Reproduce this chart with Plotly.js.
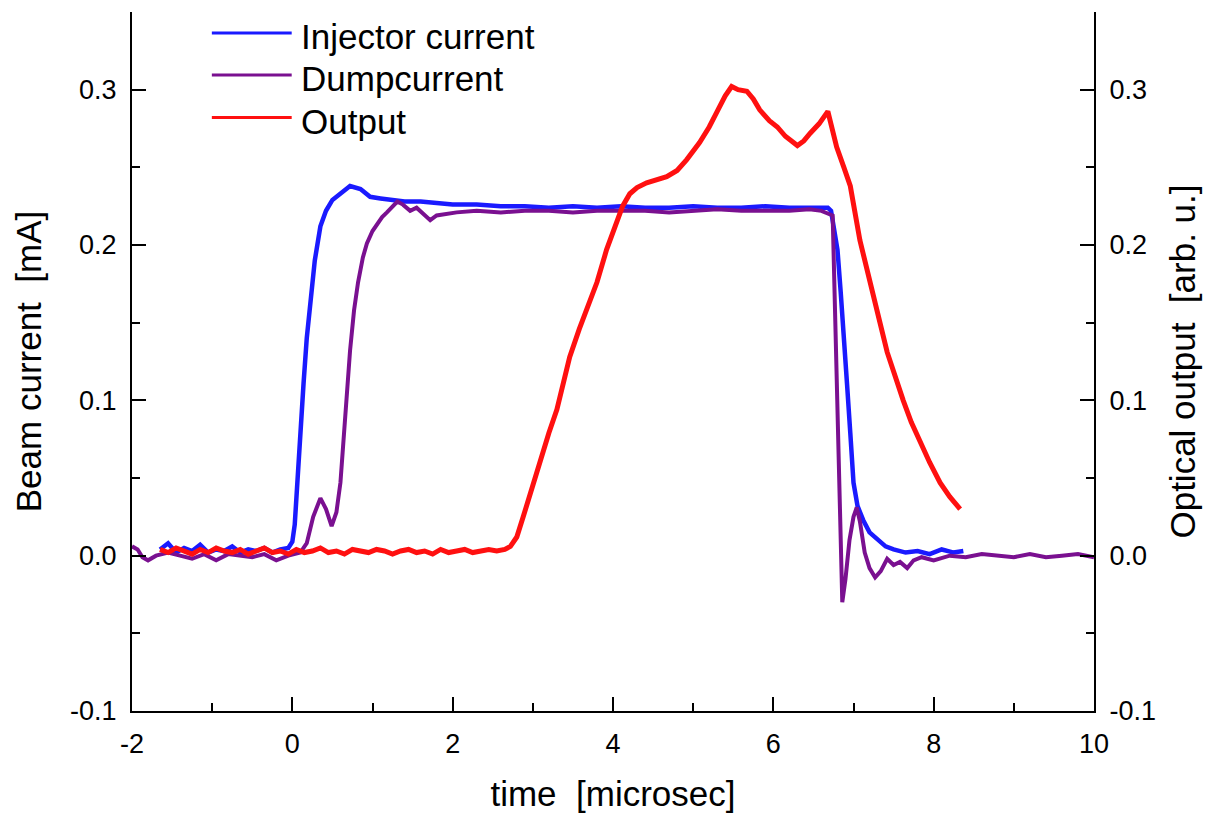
<!DOCTYPE html>
<html>
<head>
<meta charset="utf-8">
<script src="https://cdn.plot.ly/plotly-3.0.1.min.js"></script>
<style>html,body{margin:0;padding:0;background:#fff;}#chart{width:1212px;height:813px;}</style>
</head>
<body>
<div id="chart"></div>
<script>
// ---- Data ----
const injectorTime = [-1.65,-1.55,-1.45,-1.35,-1.25,-1.15,-1.05,-0.95,-0.85,-0.75,-0.65,-0.55,-0.45,-0.35,-0.25,-0.15,-0.05,0.0,0.03,0.06,0.1,0.14,0.18,0.22,0.28,0.35,0.42,0.5,0.6,0.72,0.85,0.97,1.1,1.25,1.4,1.6,1.8,2.0,2.3,2.6,2.9,3.2,3.5,3.8,4.1,4.4,4.7,5.0,5.3,5.6,5.9,6.2,6.5,6.68,6.72,6.76,6.8,6.84,6.88,6.92,6.96,7.0,7.05,7.12,7.2,7.3,7.4,7.5,7.65,7.8,7.95,8.1,8.25,8.37];
const injectorCurrent = [0.004,0.008,0.002,0.005,0.003,0.007,0.002,0.004,0.003,0.006,0.002,0.004,0.003,0.005,0.002,0.004,0.005,0.009,0.02,0.047,0.08,0.111,0.14,0.158,0.19,0.212,0.222,0.229,0.233,0.238,0.236,0.231,0.230,0.229,0.228,0.228,0.227,0.226,0.226,0.225,0.225,0.224,0.225,0.224,0.225,0.224,0.224,0.225,0.224,0.224,0.225,0.224,0.224,0.224,0.222,0.21,0.197,0.17,0.143,0.11,0.079,0.047,0.032,0.023,0.015,0.010,0.006,0.004,0.002,0.003,0.001,0.004,0.002,0.003];

const dumpTime = [-2.0,-1.93,-1.87,-1.8,-1.7,-1.55,-1.4,-1.25,-1.1,-0.95,-0.8,-0.65,-0.5,-0.35,-0.2,-0.05,0.1,0.18,0.26,0.35,0.42,0.49,0.55,0.6,0.66,0.72,0.77,0.82,0.88,0.93,1.0,1.06,1.12,1.18,1.25,1.31,1.38,1.47,1.55,1.62,1.72,1.8,1.9,2.05,2.3,2.6,2.9,3.2,3.5,3.8,4.1,4.4,4.7,5.0,5.3,5.6,5.9,6.2,6.45,6.6,6.74,6.79,6.83,6.86,6.9,6.95,7.0,7.04,7.08,7.14,7.2,7.27,7.34,7.42,7.5,7.58,7.67,7.75,7.85,8.0,8.2,8.4,8.6,8.8,9.0,9.2,9.4,9.6,9.8,10.0];
const dumpCurrent = [0.006,0.004,-0.001,-0.003,0.0,0.002,0.0,-0.002,0.001,-0.003,0.001,0.0,-0.001,0.001,-0.003,0.0,0.002,0.008,0.025,0.037,0.03,0.019,0.028,0.047,0.09,0.132,0.158,0.176,0.192,0.201,0.209,0.214,0.218,0.221,0.225,0.228,0.226,0.222,0.224,0.221,0.216,0.219,0.220,0.221,0.222,0.221,0.222,0.222,0.221,0.222,0.222,0.222,0.221,0.222,0.223,0.222,0.222,0.222,0.223,0.222,0.219,0.12,0.02,-0.030,-0.015,0.010,0.025,0.031,0.022,0.002,-0.008,-0.014,-0.010,-0.002,-0.006,-0.004,-0.008,-0.003,-0.001,-0.003,0.0,-0.001,0.001,0.0,-0.001,0.001,-0.001,0.0,0.001,-0.001];

const outputTime = [-1.65,-1.55,-1.45,-1.35,-1.25,-1.15,-1.05,-0.95,-0.85,-0.75,-0.65,-0.55,-0.45,-0.35,-0.25,-0.15,-0.05,0.05,0.15,0.25,0.35,0.45,0.55,0.65,0.75,0.85,0.95,1.05,1.15,1.25,1.35,1.45,1.55,1.65,1.75,1.85,1.95,2.05,2.15,2.25,2.35,2.45,2.55,2.65,2.72,2.8,2.88,3.0,3.09,3.2,3.3,3.46,3.58,3.68,3.8,3.92,4.05,4.12,4.21,4.3,4.42,4.55,4.67,4.8,4.92,5.08,5.2,5.3,5.4,5.48,5.56,5.67,5.75,5.83,5.95,6.05,6.15,6.3,6.38,6.46,6.57,6.68,6.74,6.79,6.88,6.96,7.08,7.16,7.24,7.33,7.42,7.52,7.62,7.72,7.83,7.95,8.08,8.2,8.33];
const opticalOutput = [0.004,0.002,0.005,0.003,0.001,0.004,0.002,0.005,0.003,0.002,0.004,0.001,0.003,0.005,0.002,0.003,0.001,0.004,0.002,0.003,0.005,0.002,0.003,0.001,0.004,0.003,0.002,0.004,0.003,0.001,0.003,0.004,0.002,0.003,0.001,0.004,0.002,0.003,0.004,0.002,0.003,0.004,0.003,0.004,0.006,0.012,0.025,0.045,0.062,0.079,0.094,0.128,0.146,0.160,0.176,0.197,0.214,0.225,0.233,0.237,0.240,0.242,0.244,0.248,0.255,0.266,0.276,0.286,0.296,0.302,0.300,0.299,0.294,0.287,0.280,0.276,0.270,0.264,0.267,0.272,0.278,0.286,0.275,0.263,0.250,0.238,0.203,0.187,0.169,0.150,0.131,0.115,0.100,0.086,0.073,0.060,0.047,0.038,0.030];

const seriesNames = ['Injector current', 'Dumpcurrent', 'Output'];
const seriesColors = ['#1a1aff', '#7a1090', '#ff1010'];

const xTickValues = [-2, 0, 2, 4, 6, 8, 10];
const xTickLabels = ['-2', '0', '2', '4', '6', '8', '10'];
const yTickValues = [-0.1, 0.0, 0.1, 0.2, 0.3];
const yTickLabels = ['-0.1', '0.0', '0.1', '0.2', '0.3'];

const FONT = 'Liberation Sans, Arial, sans-serif';

const traces = [
  {x: injectorTime, y: injectorCurrent, name: seriesNames[0], type: 'scatter', mode: 'lines',
   line: {color: seriesColors[0], width: 4.5}, yaxis: 'y'},
  {x: dumpTime, y: dumpCurrent, name: seriesNames[1], type: 'scatter', mode: 'lines',
   line: {color: seriesColors[1], width: 4}, yaxis: 'y'},
  {x: outputTime, y: opticalOutput, name: seriesNames[2], type: 'scatter', mode: 'lines',
   line: {color: seriesColors[2], width: 5}, yaxis: 'y2'}
];

// Hand-drawn legend (long line samples as in the reference)
const legendRowsY = [0.970, 0.910, 0.849];
const legendShapes = seriesNames.map((n, i) => ({
  type: 'line', xref: 'paper', yref: 'paper',
  x0: 0.083, x1: 0.166, y0: legendRowsY[i], y1: legendRowsY[i],
  line: {color: seriesColors[i], width: 3}
}));
const legendAnnotations = seriesNames.map((n, i) => ({
  text: n, xref: 'paper', yref: 'paper', x: 0.174, y: legendRowsY[i] - 0.005,
  xanchor: 'left', yanchor: 'middle', showarrow: false,
  font: {family: FONT, size: 35, color: '#000'}
}));

const axisCommon = {
  showline: true, linecolor: '#000', linewidth: 2,
  ticks: 'inside', ticklen: 14, tickwidth: 2, tickcolor: '#000',
  showgrid: false, zeroline: false,
  tickfont: {family: FONT, size: 27, color: '#000'}
};

const layout = {
  width: 1212, height: 813,
  margin: {l: 132, r: 118, t: 12, b: 102},
  paper_bgcolor: '#fff', plot_bgcolor: '#fff',
  font: {family: FONT, color: '#000'},
  showlegend: false,
  shapes: legendShapes,
  annotations: legendAnnotations,
  xaxis: Object.assign({}, axisCommon, {
    range: [-2, 10], tickmode: 'array', tickvals: xTickValues, ticktext: xTickLabels,
    ticklabelstandoff: 8,
    minor: {dtick: 1, ticklen: 8, tickwidth: 2, ticks: 'inside', tickcolor: '#000'},
    title: {text: 'time  [microsec]', font: {family: FONT, size: 35, color: '#000'}, standoff: 24}
  }),
  yaxis: Object.assign({}, axisCommon, {
    range: [-0.1, 0.35], tickmode: 'array', tickvals: yTickValues, ticktext: yTickLabels,
    minor: {dtick: 0.05, tick0: 0, ticklen: 8, tickwidth: 2, ticks: 'inside', tickcolor: '#000'},
    ticklabelstandoff: 8,
    title: {text: 'Beam current  [mA]', font: {family: FONT, size: 35, color: '#000'}, standoff: 18}
  }),
  yaxis2: Object.assign({}, axisCommon, {
    range: [-0.1, 0.35], tickmode: 'array', tickvals: yTickValues, ticktext: yTickLabels,
    overlaying: 'y', side: 'right',
    minor: {dtick: 0.05, tick0: 0, ticklen: 8, tickwidth: 2, ticks: 'inside', tickcolor: '#000'},
    ticklabelstandoff: 8,
    title: {text: 'Optical output  [arb. u.]', font: {family: FONT, size: 35, color: '#000'}, standoff: 16}
  })
};

Plotly.newPlot('chart', traces, layout, {staticPlot: true, displayModeBar: false});
</script>
</body>
</html>
